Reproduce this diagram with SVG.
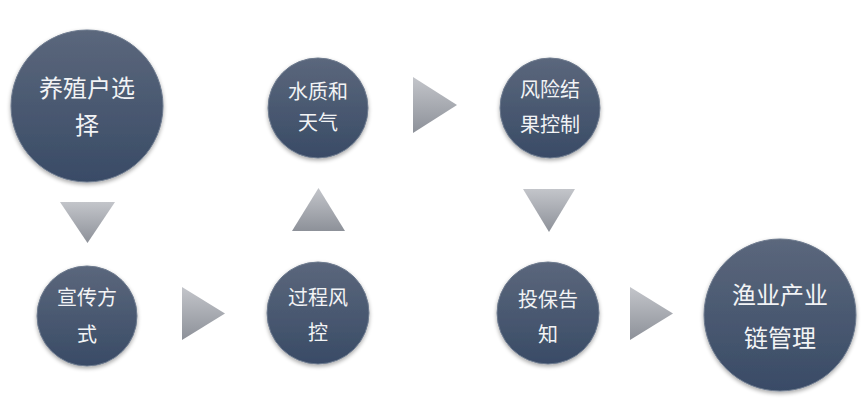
<svg xmlns="http://www.w3.org/2000/svg" width="867" height="400" viewBox="0 0 867 400">
<defs>
<linearGradient id="cg" x1="0" y1="0" x2="0" y2="1">
<stop offset="0" stop-color="#5b677c"/>
<stop offset="1" stop-color="#394b66"/>
</linearGradient>
<linearGradient id="tg" x1="0" y1="0" x2="0" y2="1">
<stop offset="0" stop-color="#c3c5ca"/>
<stop offset="1" stop-color="#8d9199"/>
</linearGradient>
<filter id="sh" x="-20%" y="-20%" width="140%" height="140%">
<feGaussianBlur in="SourceAlpha" stdDeviation="2"/>
<feOffset dx="0" dy="2"/>
<feComponentTransfer><feFuncA type="linear" slope="0.35"/></feComponentTransfer>
<feMerge><feMergeNode/><feMergeNode in="SourceGraphic"/></feMerge>
</filter>
</defs>
<style>
.c{fill:url(#cg);stroke:#6d7a8e;stroke-width:1;filter:url(#sh)}
.t{fill:#f2f3f5;font-family:"Noto Sans CJK SC",sans-serif;text-anchor:middle}
.a{fill:url(#tg)}
</style>
<rect width="867" height="400" fill="#ffffff"/>
<g id="connectors">
<polygon class="a" points="60,202 115,202 87.5,243"/>
<polygon class="a" points="318.5,188 345,231 292,231"/>
<polygon class="a" points="413,77 457,105 413,133"/>
<polygon class="a" points="523,189 575,189 549,232"/>
<polygon class="a" points="182,287 225,313.5 182,340"/>
<polygon class="a" points="630,287 673,313.5 630,340"/>
</g>
<g id="n1"><circle class="c" cx="87" cy="106" r="76"/>
<text class="t" font-size="24" x="87" y="97">养殖户选</text>
<text class="t" font-size="24" x="87" y="134">择</text></g>
<g id="n2"><circle class="c" cx="318" cy="108" r="50"/>
<text class="t" font-size="20" x="318" y="99">水质和</text>
<text class="t" font-size="20" x="318" y="130">天气</text></g>
<g id="n3"><circle class="c" cx="550" cy="108" r="50"/>
<text class="t" font-size="20" x="550" y="97">风险结</text>
<text class="t" font-size="20" x="550" y="132">果控制</text></g>
<g id="n4"><circle class="c" cx="87" cy="316" r="50"/>
<text class="t" font-size="20" x="87" y="305">宣传方</text>
<text class="t" font-size="20" x="87" y="342">式</text></g>
<g id="n5"><circle class="c" cx="318" cy="313" r="51"/>
<text class="t" font-size="20" x="318" y="305">过程风</text>
<text class="t" font-size="20" x="318" y="340">控</text></g>
<g id="n6"><circle class="c" cx="548" cy="313" r="51"/>
<text class="t" font-size="20" x="548" y="307">投保告</text>
<text class="t" font-size="20" x="548" y="342">知</text></g>
<g id="n7"><circle class="c" cx="780" cy="315" r="76"/>
<text class="t" font-size="24" x="780" y="304">渔业产业</text>
<text class="t" font-size="24" x="780" y="347">链管理</text></g>
</svg>
